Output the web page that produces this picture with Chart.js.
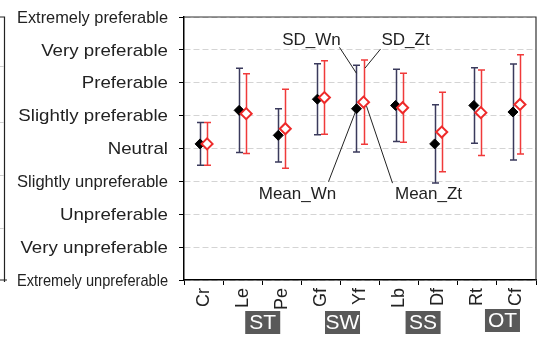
<!DOCTYPE html>
<html>
<head>
<meta charset="utf-8">
<script src="https://cdn.jsdelivr.net/npm/chart.js@4"></script>
<style>
  html, body { margin: 0; padding: 0; background: #fff; }
</style>
</head>
<body>
<canvas id="myChart" width="546" height="338"></canvas>
<script>
// values, neutral = 0, scale -4 .. 4
const categories = ['Cr', 'Le', 'Pe', 'Gf', 'Yf', 'Lb', 'Df', 'Rt', 'Cf'];
const levelLabels = ['Extremely unpreferable', 'Very unpreferable', 'Unpreferable', 'Slightly unpreferable',
  'Neutral', 'Slightly preferable', 'Preferable', 'Very preferable', 'Extremely preferable'];
const groups = ['ST', 'SW', 'SS', 'OT'];
const meanWn = [0.14, 1.16, 0.40, 1.50, 1.21, 1.31, 0.14, 1.31, 1.11];
const sdWn   = [0.65, 1.28, 0.81, 1.08, 1.32, 1.10, 1.19, 1.15, 1.46];
const meanZt = [0.14, 1.06, 0.60, 1.55, 1.41, 1.24, 0.50, 1.09, 1.34];
const sdZt   = [0.65, 1.21, 1.20, 1.12, 1.28, 1.05, 1.21, 1.30, 1.51];

const FONT = '"Liberation Sans", Arial, sans-serif';
const shift = 0.09;

// error bars behind the markers
const errorBars = {
  id: 'errorBars',
  beforeDatasetsDraw(chart) {
    const { ctx, scales: { x2, y } } = chart;
    const sets = [[meanWn, sdWn, -shift, '#3a3a5c'], [meanZt, sdZt, shift, '#f03a3a']];
    ctx.save();
    ctx.lineWidth = 1.5;
    sets.forEach(([m, s, dx, col]) => {
      ctx.strokeStyle = col;
      m.forEach((v, i) => {
        const px = Math.round(x2.getPixelForValue(i + dx)) + 0.5;
        const top = y.getPixelForValue(v + s[i]);
        const bot = y.getPixelForValue(v - s[i]);
        ctx.beginPath();
        ctx.moveTo(px, top); ctx.lineTo(px, bot);
        ctx.moveTo(px - 3.5, top); ctx.lineTo(px + 3.5, top);
        ctx.moveTo(px - 3.5, bot); ctx.lineTo(px + 3.5, bot);
        ctx.stroke();
      });
    });
    ctx.restore();
  }
};

// frame bits, level labels, callouts and group boxes
const extras = {
  id: 'extras',
  beforeDraw(chart) {
    const { ctx, chartArea: a } = chart;
    ctx.save();
    // edge of the neighbouring panel at the far left
    ctx.strokeStyle = '#222';
    ctx.lineWidth = 1.2;
    ctx.beginPath();
    ctx.moveTo(0, a.top); ctx.lineTo(4.5, a.top); ctx.lineTo(4.5, a.bottom + 2);
    ctx.moveTo(0, a.bottom); ctx.lineTo(7, a.bottom);
    ctx.stroke();
    ctx.strokeStyle = '#cfcfcf';
    ctx.lineWidth = 1;
    [66, 122, 175, 228].forEach(yy => {
      ctx.beginPath(); ctx.moveTo(0, yy + 0.5); ctx.lineTo(4, yy + 0.5); ctx.stroke();
    });
    ctx.restore();
  },
  afterDraw(chart) {
    const { ctx, chartArea: a, scales: { x2, y } } = chart;
    ctx.save();
    // top and right border
    ctx.strokeStyle = '#333';
    ctx.lineWidth = 1.2;
    ctx.beginPath();
    ctx.moveTo(a.left, a.top); ctx.lineTo(a.right, a.top); ctx.lineTo(a.right, a.bottom);
    ctx.stroke();

    // y labels on the axis ticks (the original font is a bit wider)
    ctx.font = '17px ' + FONT;
    ctx.fillStyle = '#222';
    ctx.textAlign = 'right';
    ctx.textBaseline = 'middle';
    y.ticks.forEach((t, i) => {
      const label = levelLabels[t.value + 4];
      ctx.save();
      ctx.translate(a.left - 16, y.getPixelForTick(i) + 1);
      ctx.scale(1.1, 1);
      ctx.fillText(label, 0, 0, 151 / 1.1);
      ctx.restore();
    });

    // callouts pointing at Yf
    const k = 4;
    const wx = x2.getPixelForValue(k - shift), zx = x2.getPixelForValue(k + shift);
    const wy = y.getPixelForValue(meanWn[k]), zy = y.getPixelForValue(meanZt[k]);
    const wTop = y.getPixelForValue(meanWn[k] + sdWn[k]);
    const zTop = y.getPixelForValue(meanZt[k] + sdZt[k]);
    ctx.strokeStyle = '#222';
    ctx.lineWidth = 1;
    ctx.beginPath();
    ctx.moveTo(wx - 17, wTop - 18); ctx.lineTo(wx, wTop + 8);
    ctx.moveTo(zx + 17, zTop - 11); ctx.lineTo(zx + 1.5, zTop + 8);
    ctx.moveTo(wx - 28, wy + 73); ctx.lineTo(wx - 1, wy + 3);
    ctx.moveTo(zx + 29, zy + 81); ctx.lineTo(zx + 3, zy + 4);
    ctx.stroke();
    ctx.textAlign = 'center';
    ctx.fillText('SD_Wn', wx - 45, wTop - 25);
    ctx.fillText('SD_Zt', zx + 42, zTop - 20);
    ctx.fillText('Mean_Wn', wx - 59, wy + 86);
    ctx.fillText('Mean_Zt', zx + 65, zy + 92);

    // group boxes under the category labels
    const groupPos = [1.5, 3.54, 5.6, 7.63];
    const groupTop = [311, 311, 311, 309];
    ctx.font = '21px ' + FONT;
    groups.forEach((g, i) => {
      const cx = x2.getPixelForValue(groupPos[i]);
      ctx.fillStyle = '#595959';
      ctx.fillRect(cx - 17, groupTop[i], 35, 23);
      ctx.fillStyle = '#fff';
      ctx.fillText(g, cx + 0.5, groupTop[i] + 12.5);
    });
    ctx.restore();
  }
};

const ctx = document.getElementById('myChart').getContext('2d');
new Chart(ctx, {
  type: 'scatter',
  data: {
    labels: categories,
    datasets: [
      {
        label: 'Mean_Wn',
        data: meanWn.map((v, i) => ({ x: i - shift, y: v })),
        xAxisID: 'x2',
        order: 2,
        pointStyle: 'rectRot',
        pointRadius: 5,
        backgroundColor: '#000',
        borderColor: '#000',
        borderWidth: 1
      },
      {
        label: 'Mean_Zt',
        data: meanZt.map((v, i) => ({ x: i + shift, y: v })),
        xAxisID: 'x2',
        order: 1,
        pointStyle: 'rectRot',
        pointRadius: 5.5,
        backgroundColor: '#fff',
        borderColor: '#ee2a2a',
        borderWidth: 2
      }
    ]
  },
  options: {
    responsive: false,
    animation: false,
    layout: { padding: { top: 17, right: 10, left: 0, bottom: 0 } },
    plugins: {
      legend: { display: false },
      tooltip: { enabled: false }
    },
    scales: {
      x: {
        type: 'category',
        position: 'bottom',
        offset: true,
        grid: { offset: true, drawOnChartArea: false, tickLength: 5, tickColor: '#000' },
        border: { color: '#000', width: 1.5 },
        ticks: {
          color: '#222',
          font: { size: 18, family: FONT },
          minRotation: 90, maxRotation: 90,
          padding: 3
        },
        afterFit(scale) { scale.height = 58; }
      },
      x2: {
        type: 'linear',
        display: false,
        min: -0.5,
        max: 8.5
      },
      y: {
        min: -4,
        max: 4,
        ticks: { stepSize: 1, display: false },
        grid: { color: '#d4d4d4', tickLength: 5, tickColor: '#000' },
        border: { color: '#000', width: 1.5, dash: [6, 3] },
        afterFit(scale) { scale.width = 184; }
      }
    }
  },
  plugins: [errorBars, extras]
});
</script>
</body>
</html>
